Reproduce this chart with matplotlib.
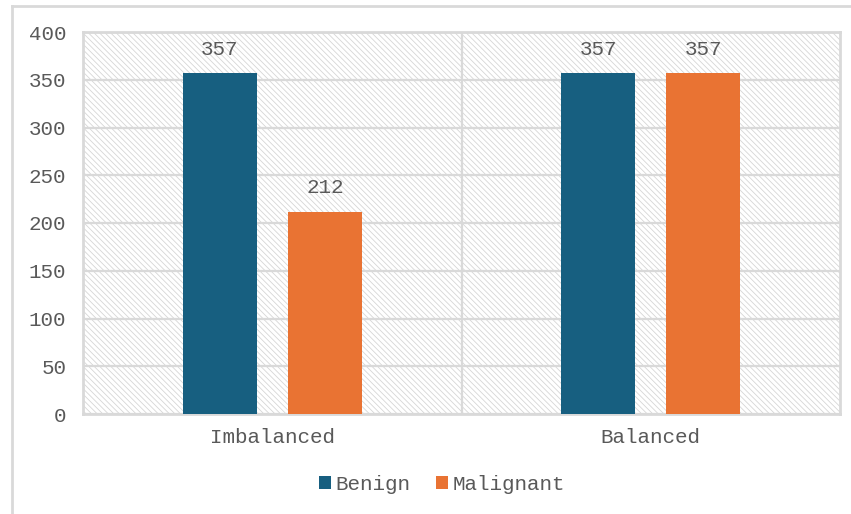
import matplotlib.pyplot as plt
import matplotlib.patches as mpatches
import numpy as np

# Class counts before and after balancing
groups    = ['Imbalanced', 'Balanced']
benign    = [357, 357]
malignant = [212, 357]
series    = ['Benign', 'Malignant']
yticks    = [0, 50, 100, 150, 200, 250, 300, 350, 400]

BLUE   = '#175F80'
ORANGE = '#E97333'
GRID   = '#D9D9D9'
HATCH  = '#D6D6D6'
TEXT   = '#595959'

plt.rcParams['font.family'] = ['Liberation Mono', 'DejaVu Sans Mono']
plt.rcParams['hatch.linewidth'] = 0.6

fig = plt.figure(figsize=(8.51, 5.14), dpi=100)
ax = fig.add_axes([83/851, 1 - 414/514, 757/851, 382/514])

# Hatched background behind everything
ax.add_patch(mpatches.Rectangle((0, 0), 1, 1, transform=ax.transAxes,
                                facecolor='white', edgecolor=HATCH,
                                linewidth=0, hatch='\\\\\\\\\\\\', zorder=0))

x = np.arange(len(groups))
w = 0.196
off = 0.139
b1 = ax.bar(x - off, benign, w, color=BLUE, label=series[0], zorder=3)
b2 = ax.bar(x + off, malignant, w, color=ORANGE, label=series[1], zorder=3)

for bars in (b1, b2):
    for r in bars:
        ax.text(r.get_x() + r.get_width()/2, r.get_height() + 15,
                '%d' % r.get_height(), ha='center', va='bottom',
                fontsize=15, color=TEXT, zorder=4)

ax.set_xlim(-0.5, 1.5)
ax.set_ylim(0, 400)
ax.set_yticks(yticks)
ax.set_xticks(x)
ax.set_xticklabels(groups)
ax.grid(axis='y', color=GRID, linewidth=1.6, zorder=1)
ax.set_axisbelow(True)
ax.axvline(0.5, color=GRID, linewidth=1.6, zorder=1)
ax.tick_params(length=0, labelsize=15, colors=TEXT, pad=10)
ax.tick_params(axis='y', pad=12)
for s in ax.spines.values():
    s.set_color(GRID)
    s.set_linewidth(2)

ax.legend(loc='upper center', bbox_to_anchor=(0.474, -0.11), ncol=2,
          frameon=False, fontsize=15, labelcolor=TEXT,
          handlelength=0.6, handleheight=0.6, handletextpad=0.2,
          columnspacing=1.2)

# Light frame lines on the left and top of the figure
fig.add_artist(plt.Line2D([12/851, 12/851], [0, 1 - 6/514],
                          transform=fig.transFigure, color=GRID, linewidth=2))
fig.add_artist(plt.Line2D([12/851, 1], [1 - 6/514, 1 - 6/514],
                          transform=fig.transFigure, color=GRID, linewidth=2))

fig.savefig('out.png', dpi=100)
